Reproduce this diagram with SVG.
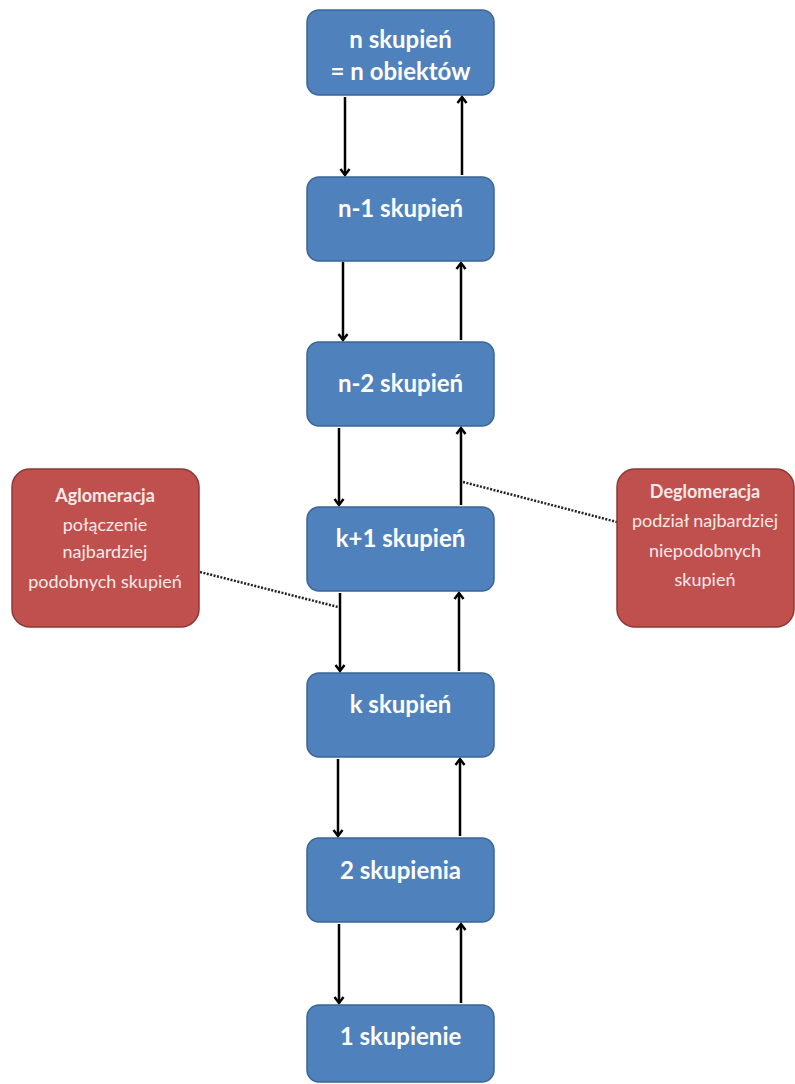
<svg xmlns="http://www.w3.org/2000/svg" width="795" height="1084" viewBox="0 0 795 1084">
<style>
.n rect{fill:#4F81BD;stroke:#3A6595;stroke-width:1.5}
.r rect{fill:#C0504D;stroke:#8C3836;stroke-width:1.5}
.t{font-family:Lato,"Open Sans",sans-serif;font-weight:bold;font-size:24px;fill:#fff;text-anchor:middle}
.s{font-family:Lato,"Open Sans",sans-serif;font-size:18px;fill:#F8E8E8;text-anchor:middle}
.sb{font-weight:bold}
.a{stroke:#000;stroke-width:2.5;fill:none;marker-end:url(#ah)}
.d{stroke:#222;stroke-width:2.5;stroke-dasharray:2 1.5;fill:none}
</style>
<defs>
<marker id="ah" markerWidth="12" markerHeight="12" refX="9" refY="6" orient="auto" markerUnits="userSpaceOnUse" viewBox="0 0 12 12">
<path d="M3,1.5 L9,6 L3,10.5" fill="none" stroke="#000" stroke-width="2.5"/>
</marker>
</defs>
<rect width="795" height="1084" fill="#fff"/>
<g id="connectors">
<line class="a" x1="345" y1="97" x2="345" y2="175"/>
<line class="a" x1="462" y1="175" x2="462" y2="97"/>
<line class="a" x1="343" y1="262" x2="343" y2="340"/>
<line class="a" x1="461" y1="340" x2="461" y2="263"/>
<line class="a" x1="339" y1="428" x2="339" y2="505"/>
<line class="a" x1="461" y1="505" x2="461" y2="428"/>
<line class="a" x1="340" y1="593" x2="340" y2="671"/>
<line class="a" x1="459" y1="671" x2="459" y2="593"/>
<line class="a" x1="338" y1="759" x2="338" y2="836"/>
<line class="a" x1="460" y1="836" x2="460" y2="759"/>
<line class="a" x1="339" y1="924" x2="339" y2="1003"/>
<line class="a" x1="461" y1="1003" x2="461" y2="924"/>
<line class="d" x1="200" y1="572" x2="338" y2="607"/>
<line class="d" x1="463" y1="482" x2="617" y2="522"/>
</g>
<g id="n1" class="n"><rect x="307" y="10" width="187" height="85" rx="12"/><text class="t" x="400.5" y="48">n skupień</text><text class="t" x="400.5" y="80">= n obiektów</text></g>
<g id="n2" class="n"><rect x="307" y="177" width="187" height="84" rx="12"/><text class="t" x="400.5" y="217">n-1 skupień</text></g>
<g id="n3" class="n"><rect x="307" y="342" width="187" height="84" rx="12"/><text class="t" x="400.5" y="392">n-2 skupień</text></g>
<g id="n4" class="n"><rect x="307" y="507" width="187" height="84" rx="12"/><text class="t" x="400.5" y="547">k+1 skupień</text></g>
<g id="n5" class="n"><rect x="307" y="673" width="187" height="84" rx="12"/><text class="t" x="400.5" y="713">k skupień</text></g>
<g id="n6" class="n"><rect x="307" y="838" width="187" height="84" rx="12"/><text class="t" x="400.5" y="879">2 skupienia</text></g>
<g id="n7" class="n"><rect x="307" y="1005" width="187" height="77" rx="12"/><text class="t" x="400.5" y="1045">1 skupienie</text></g>
<g id="aglo" class="r"><rect x="12" y="469" width="187" height="158" rx="18"/>
<text class="s sb" x="105" y="502">Aglomeracja</text>
<text class="s" x="105" y="531">połączenie</text>
<text class="s" x="105" y="558">najbardziej</text>
<text class="s" x="105" y="588">podobnych skupień</text></g>
<g id="deglo" class="r"><rect x="617" y="469" width="177" height="158" rx="18"/>
<text class="s sb" x="705" y="498">Deglomeracja</text>
<text class="s" x="705" y="527">podział najbardziej</text>
<text class="s" x="705" y="557">niepodobnych</text>
<text class="s" x="705" y="586">skupień</text></g>
</svg>
